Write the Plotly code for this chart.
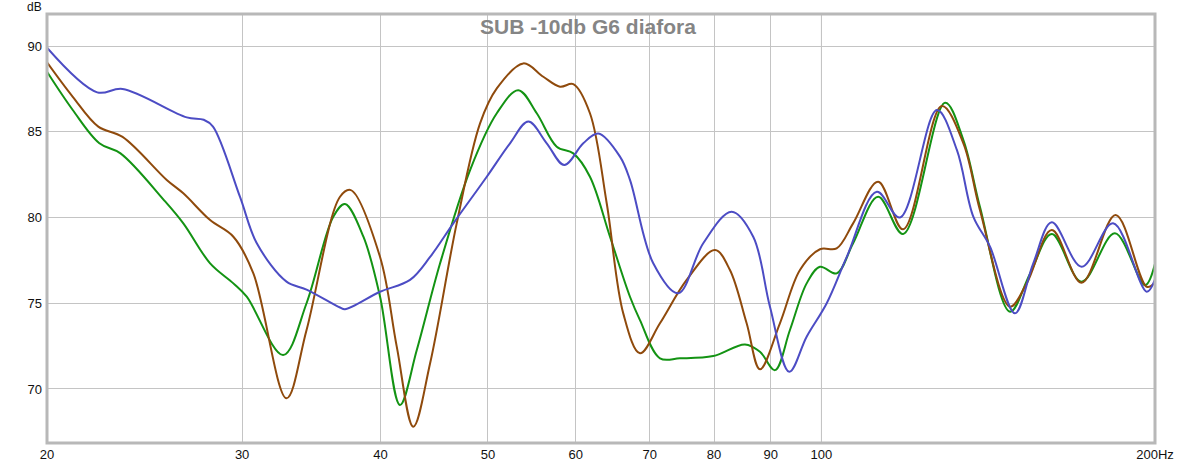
import plotly.graph_objects as go

# ---- data (frequency in Hz, level in dB) ----
blue_f = [20.0, 22.2, 23.4, 26.74, 27.7, 28.24, 29.87, 30.93, 32.9, 34.3, 36.77, 37.15,
          39.96, 42.53, 44.34, 46.53, 49.88, 52.35, 54.38, 56.5, 58.6, 60.96, 62.89, 65.79,
          67.17, 70.5, 74.26, 78.22, 82.98, 86.78, 89.85, 93.53, 96.97, 101.1, 105.4, 112.2,
          117.7, 127.1, 132.5, 137.1, 141.95, 149.5, 155.3, 161.4, 171.7, 183.3, 196.6, 200.0]
blue_db = [89.9, 87.3, 87.5, 85.84, 85.7, 85.3, 81.2, 78.5, 76.26, 75.8, 74.75, 74.65,
           75.67, 76.36, 77.7, 79.66, 82.38, 84.33, 85.6, 84.33, 83.06, 84.33, 84.9, 83.55,
           82.2, 77.33, 75.58, 78.5, 80.34, 78.88, 74.8, 71.0, 73.05, 75.0, 77.7, 81.5,
           80.0, 86.27, 83.94, 80.05, 78.3, 74.41, 77.33, 79.72, 77.13, 79.66, 75.67, 76.4]

brown_f = [20.0, 21.1, 22.25, 23.4, 25.65, 26.55, 28.07, 29.46, 30.71, 32.9, 34.3, 36.77,
           37.6, 39.96, 41.37, 42.82, 44.34, 46.86, 49.19, 50.93, 53.82, 56.1, 58.08, 59.71,
           61.81, 64.0, 66.24, 68.58, 71.49, 75.57, 80.15, 82.68, 85.6, 88.0, 91.73, 95.63,
           99.69, 103.2, 106.8, 112.5, 118.5, 128.4, 134.3, 139.0, 148.0, 153.2, 161.4,
           171.7, 184.3, 196.6, 200.0]
brown_db = [89.05, 87.04, 85.3, 84.7, 82.19, 81.41, 79.85, 78.88, 76.74, 69.46, 73.44, 81.21,
            81.6, 77.7, 72.47, 67.8, 71.5, 79.66, 85.49, 87.53, 88.99, 88.21, 87.63, 87.78,
            86.08, 80.83, 74.41, 72.08, 73.83, 76.36, 78.1, 76.94, 73.83, 71.15, 73.83, 76.94,
            78.15, 78.2, 79.66, 82.09, 79.31, 86.5, 84.33, 80.44, 74.8, 76.16, 79.27,
            76.2, 80.15, 75.96, 76.2]

green_f = [20.0, 21.1, 22.3, 23.3, 25.5, 26.55, 28.07, 29.46, 30.29, 32.67, 34.3, 36.26,
           37.15, 38.6, 39.96, 41.65, 43.13, 45.27, 48.18, 50.93, 53.26, 55.34, 57.69, 59.71,
           61.81, 64.44, 67.17, 68.58, 71.49, 74.52, 79.86, 85.3, 88.0, 90.79, 93.66, 96.97,
           99.69, 103.2, 106.8, 112.5, 118.5, 129.3, 134.3, 139.0, 148.0, 154.3, 161.4,
           171.7, 184.0, 195.9, 200.0]
green_db = [88.5, 86.27, 84.33, 83.74, 81.02, 79.66, 77.33, 76.16, 75.38, 71.98, 75.0, 80.05,
            80.79, 78.88, 75.38, 69.07, 72.27, 77.33, 82.77, 86.08, 87.43, 86.08, 84.13, 83.74,
            82.38, 78.88, 75.38, 74.02, 71.79, 71.79, 71.92, 72.6, 72.17, 71.1, 73.44, 76.16,
            77.13, 76.74, 78.5, 81.21, 79.04, 86.69, 84.52, 80.63, 74.51, 76.74, 79.04,
            76.26, 79.08, 76.06, 77.3]

x_ticks = [20, 30, 40, 50, 60, 70, 80, 90, 100, 200]
x_tick_labels = ["20", "30", "40", "50", "60", "70", "80", "90", "100", "200Hz"]
y_ticks = [70, 75, 80, 85, 90]

fig = go.Figure()
series = [
    (green_f, green_db, "#139313"),
    (brown_f, brown_db, "#8f4a0c"),
    (blue_f, blue_db, "#4c4cc4"),
]
for f, d, c in series:
    fig.add_trace(go.Scatter(x=f, y=d, mode="lines",
                             line=dict(color=c, width=2, shape="spline", smoothing=1.0),
                             showlegend=False, hoverinfo="skip"))

# darker 100 Hz gridline
fig.add_shape(type="line", xref="x", yref="paper", x0=100, x1=100, y0=0, y1=1,
              line=dict(color="#8a8a8a", width=1), layer="below")

fig.add_shape(type="rect", xref="paper", yref="paper", x0=0, x1=1, y0=0, y1=1,
              line=dict(color="#b8b8b8", width=3), layer="above")

fig.add_annotation(text="<b>SUB -10db G6 diafora</b>", xref="paper", yref="paper",
                   x=(588 - 47) / 1108, y=(443 - 26) / 429, showarrow=False,
                   font=dict(family="Liberation Sans, Arial", size=21, color="#858585"),
                   xanchor="center", yanchor="middle")
fig.add_annotation(text="dB", xref="paper", yref="paper", x=(34 - 47) / 1108,
                   y=(443 - 7) / 429, showarrow=False, xanchor="center", yanchor="middle",
                   font=dict(family="Liberation Sans, Arial", size=12, color="#111"))

fig.update_layout(
    width=1177, height=464,
    margin=dict(l=47, r=22, t=14, b=21),
    paper_bgcolor="white", plot_bgcolor="white",
    font=dict(family="Liberation Sans, Arial", size=13, color="#111"),
    xaxis=dict(type="log", range=[1.30103, 2.30103], tickvals=x_ticks,
               ticktext=x_tick_labels, showgrid=True, gridcolor="#c4c4c4", gridwidth=1,
               zeroline=False, showline=False, ticks="", ticklabelstandoff=2,
               automargin=False),
    yaxis=dict(range=[66.85, 91.87], tickvals=y_ticks, showgrid=True,
               gridcolor="#c4c4c4", gridwidth=1, zeroline=False, showline=False,
               ticks="", ticklabelstandoff=4, automargin=False),
)

fig.write_html("out.html", config={"displayModeBar": False},
               post_script="document.body.style.margin='0';document.body.style.overflow='hidden';")
